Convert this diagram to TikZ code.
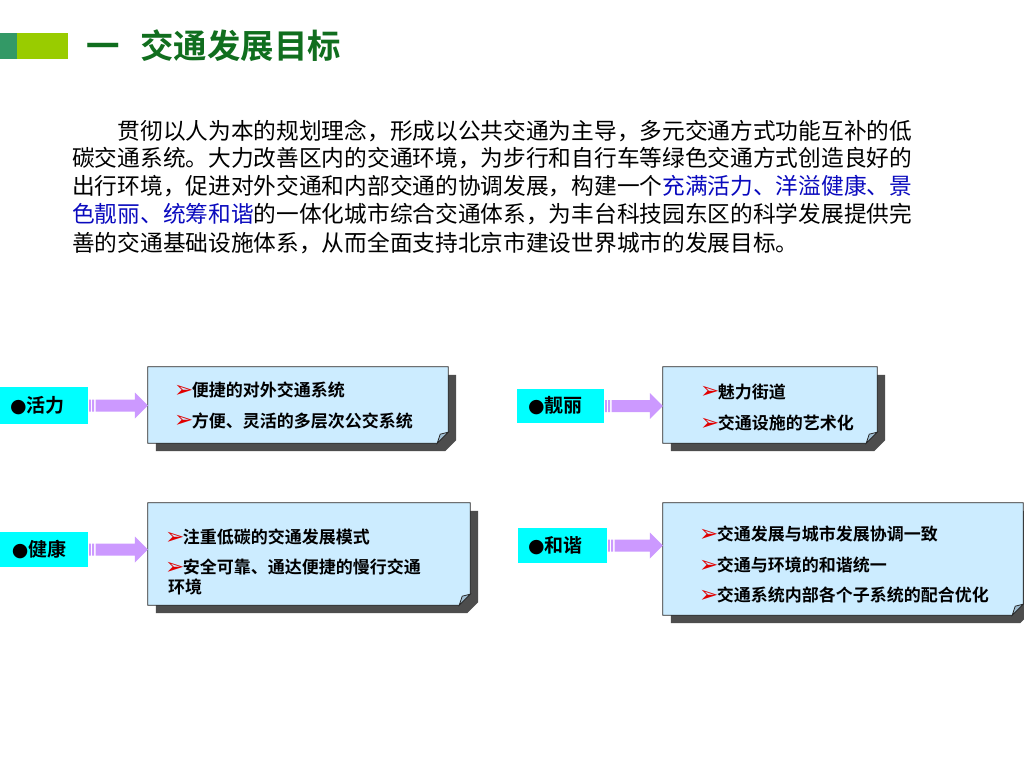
\documentclass[tikz,border=0pt]{standalone}
\usepackage{fontspec}
\setmainfont{Noto Sans CJK SC}
\newfontfamily\cjkb{Noto Sans CJK SC Bold}
\newfontfamily\djv{DejaVu Sans}
\usetikzlibrary{calc}
\definecolor{titlegreen}{RGB}{16,110,30}
\definecolor{sqdark}{RGB}{51,153,102}
\definecolor{sqlight}{RGB}{153,204,0}
\definecolor{bodyblue}{RGB}{10,10,190}
\definecolor{boxfill}{RGB}{204,236,255}
\definecolor{foldfill}{RGB}{160,190,210}
\definecolor{shadowc}{RGB}{77,77,77}
\definecolor{arrowc}{RGB}{204,153,255}
\definecolor{labelc}{RGB}{0,255,255}
\definecolor{tipred}{RGB}{225,0,0}
\newcommand{\tip}{{\fontsize{23}{20}\djv\color{tipred}\raisebox{-0.5pt}{➢}}\kern-1.5pt}
\newcommand{\stripearrow}[2]{%
  \fill[arrowc] let \p1=(#1.east), \p2=(#1.east -| #2.west) in
    (\x1+1pt,\y1-6pt) rectangle (\x1+2.6pt,\y1+6pt)
    (\x1+4pt,\y1-6pt) rectangle (\x1+6pt,\y1+6pt)
    (\x1+7.4pt,\y1-6pt) -- (\x2-13pt,\y1-6pt) -- (\x2-13pt,\y1-13pt) -- (\x2,\y1)
    -- (\x2-13pt,\y1+13pt) -- (\x2-13pt,\y1+6pt) -- (\x1+7.4pt,\y1+6pt) -- cycle;}
\newcommand{\foldbox}[1]{%
  \fill[shadowc] let \p1=(#1.south west), \p2=(#1.north east) in
    (\x1+8pt,\y1-8pt) -- (\x2-3pt,\y1-8pt) -- (\x2+8pt,\y1+3pt)
    -- (\x2+8pt,\y2-8pt) -- (\x1+8pt,\y2-8pt) -- cycle;
  \filldraw[fill=boxfill,draw=black!85,line width=0.8pt] let \p1=(#1.south west), \p2=(#1.north east) in
    (\x1,\y1) -- (\x2-11pt,\y1) -- (\x2,\y1+11pt) -- (\x2,\y2) -- (\x1,\y2) -- cycle;
  \filldraw[fill=foldfill,draw=black!85,line width=0.8pt] let \p1=(#1.south east) in
    (\x1-11pt,\y1) .. controls (\x1-10pt,\y1+5pt) .. (\x1-8pt,\y1+9pt) -- (\x1,\y1+11pt) -- cycle;}
\tikzset{
  x=1pt,y=-1pt,
  boxn/.style={draw=none,inner sep=0pt,rectangle},
  labeln/.style={fill=labelc,inner ysep=0pt,inner xsep=0pt,align=left,
    font=\fontsize{19}{22}\cjkb,anchor=center},
  bodyline/.style={anchor=west,inner sep=0pt,font=\fontsize{22.7}{26}\selectfont},
  item/.style={anchor=west,inner sep=0pt,font=\fontsize{17}{20}\cjkb},
}
\begin{document}
\begin{tikzpicture}
\useasboundingbox (0,0) rectangle (1024,768);
\fill[white] (0,0) rectangle (1024,768);
% title
\fill[sqdark] (0,33) rectangle (17,59);
\fill[sqlight] (17,33) rectangle (68,59);
\node[anchor=west,inner sep=0pt,text=titlegreen,font=\fontsize{33.4}{36}\cjkb] (title) at (86,46) {一\hspace{21pt}交通发展目标};
% body
\node[bodyline] (l1) at (72,131) {\hspace{45.4pt}贯彻以人为本的规划理念，形成以公共交通为主导，多元交通方式功能互补的低};
\node[bodyline] (l2) at (72,158) {碳交通系统。大力改善区内的交通环境，为步行和自行车等绿色交通方式创造良好的};
\node[bodyline] (l3) at (72,186) {出行环境，促进对外交通和内部交通的协调发展，构建一个\textcolor{bodyblue}{充满活力、洋溢健康、景}};
\node[bodyline] (l4) at (72,214) {\textcolor{bodyblue}{色靓丽、统筹和谐}的一体化城市综合交通体系，为丰台科技园东区的科学发展提供完};
\node[bodyline] (l5) at (72,243) {善的交通基础设施体系，从而全面支持北京市建设世界城市的发展目标。};
% boxes
\node[boxn,minimum width=300pt,minimum height=76pt] (b1) at (298,405) {};
\node[boxn,minimum width=214pt,minimum height=76pt] (b2) at (770,405) {};
\node[boxn,minimum width=322pt,minimum height=102pt] (b3) at (309,554) {};
\node[boxn,minimum width=360pt,minimum height=112pt] (b4) at (843,559) {};
\foldbox{b1}\foldbox{b2}\foldbox{b3}\foldbox{b4}
% labels
\node[labeln,minimum width=88pt,minimum height=37pt,text width=68pt] (k1) at (44,405.5) {{\djv ●}活力};
\node[labeln,minimum width=87pt,minimum height=34pt,text width=65pt] (k2) at (560.5,406) {{\djv ●}靓丽};
\node[labeln,minimum width=88pt,minimum height=35pt,text width=64pt] (k3) at (44,549.5) {{\djv ●}健康};
\node[labeln,minimum width=89pt,minimum height=35pt,text width=69pt] (k4) at (562.5,545.5) {{\djv ●}和谐};
% arrows
\stripearrow{k1}{b1}
\stripearrow{k2}{b2}
\stripearrow{k3}{b3}
\stripearrow{k4}{b4}
% items
\node[item] (t11) at (174,390) {\tip 便捷的对外交通系统};
\node[item] (t12) at (174,421) {\tip 方便、灵活的多层次公交系统};
\node[item] (t21) at (700,392) {\tip 魅力街道};
\node[item] (t22) at (700,423) {\tip 交通设施的艺术化};
\node[item] (t31) at (165,537) {\tip 注重低碳的交通发展模式};
\node[item] (t32) at (165,567) {\tip 安全可靠、通达便捷的慢行交通};
\node[item] (t33) at (168,587) {环境};
\node[item] (t41) at (699,534) {\tip 交通发展与城市发展协调一致};
\node[item] (t42) at (699,565) {\tip 交通与环境的和谐统一};
\node[item] (t43) at (699,595) {\tip 交通系统内部各个子系统的配合优化};
\end{tikzpicture}
\end{document}
